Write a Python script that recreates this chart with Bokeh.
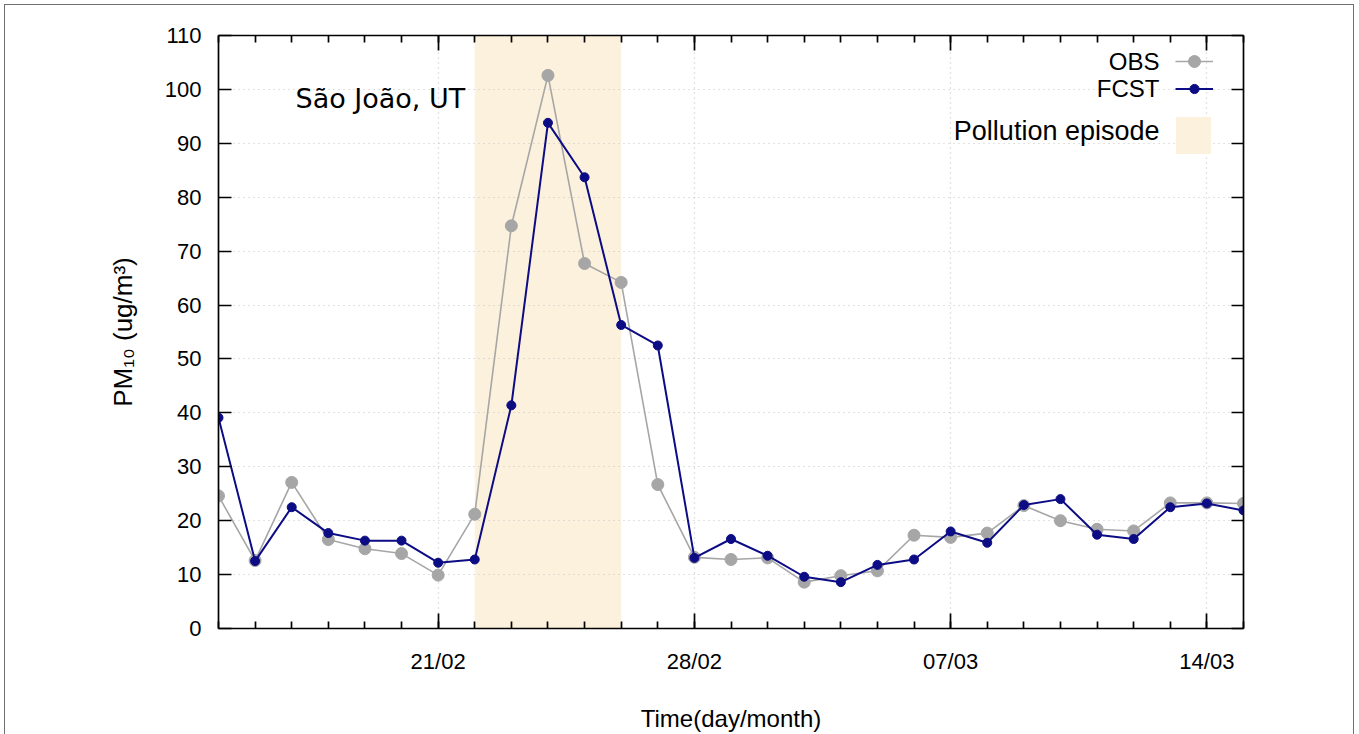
from bokeh.plotting import figure
from bokeh.models import (Range1d, FixedTicker, LinearAxis, Legend, LegendItem,
                          Label, ColumnDataSource, Grid, InlineStyleSheet)
from bokeh.embed import file_html
from bokeh.resources import INLINE

# ---------------- data ----------------
dates = ["15/02", "16/02", "17/02", "18/02", "19/02", "20/02", "21/02", "22/02",
         "23/02", "24/02", "25/02", "26/02", "27/02", "28/02", "01/03", "02/03",
         "03/03", "04/03", "05/03", "06/03", "07/03", "08/03", "09/03", "10/03",
         "11/03", "12/03", "13/03", "14/03", "15/03"]
obs = [24.6, 12.6, 27.1, 16.5, 14.8, 13.9, 9.9, 21.2, 74.7, 102.6, 67.7, 64.2,
       26.7, 13.2, 12.8, 13.1, 8.6, 9.8, 10.7, 17.3, 16.9, 17.7, 22.8, 20.0,
       18.4, 18.1, 23.3, 23.3, 23.2]
fcst = [39.1, 12.5, 22.5, 17.7, 16.3, 16.3, 12.2, 12.8, 41.4, 93.8, 83.7, 56.3,
        52.5, 13.1, 16.6, 13.5, 9.6, 8.6, 11.8, 12.8, 18.0, 15.9, 22.9, 24.0,
        17.4, 16.6, 22.5, 23.2, 21.9]
tick_labels = ["21/02", "28/02", "07/03", "14/03"]
y_ticks = [0, 10, 20, 30, 40, 50, 60, 70, 80, 90, 100, 110]
episode_start = "22/02"
episode_end = "26/02"
station = "São João, UT"

# ---------------- figure ----------------
xs = list(range(len(dates)))
src = ColumnDataSource(dict(x=xs, obs=obs, fcst=fcst))

W, H = 1359, 734
L, R, T, B = 218, 116, 35, 104

p = figure(width=W, height=H, output_backend="svg", toolbar_location=None,
           x_range=Range1d(xs[0], xs[-1]), y_range=Range1d(0, 110),
           min_border_left=L, min_border_right=R, min_border_top=T,
           min_border_bottom=B, x_axis_type=None, y_axis_type=None)
p.outline_line_color = None
p.background_fill_color = "white"
p.border_fill_color = "white"
# thin grey panel frame (left, top, right sides)
p.stylesheets = [InlineStyleSheet(css="""
:host { position: relative; }
:host::after {
  content: ""; position: absolute; left: 4px; top: 4px; right: 5px; bottom: 0px;
  border: 1.5px solid #707070; border-bottom: none;
  pointer-events: none; z-index: 10;
}
""")]

major_idx = [dates.index(t) for t in tick_labels]
xticker = FixedTicker(ticks=major_idx, minor_ticks=xs)
yticker = FixedTicker(ticks=y_ticks, minor_ticks=[])

TICKFONT = "Liberation Sans"

def style_axis(ax, major_in, minor_in, show_labels, size):
    ax.axis_line_color = "black"
    ax.axis_line_width = 1.7
    ax.major_tick_line_color = "black"
    ax.major_tick_line_width = 1.7
    ax.minor_tick_line_color = "black"
    ax.minor_tick_line_width = 1.7
    ax.major_tick_in = major_in
    ax.major_tick_out = 0
    ax.minor_tick_in = minor_in
    ax.minor_tick_out = 0
    ax.major_label_text_font = TICKFONT
    ax.major_label_text_font_size = size
    ax.major_label_text_color = "black"
    if not show_labels:
        ax.major_label_text_alpha = 0
        ax.major_label_text_font_size = "1px"

xb = LinearAxis(ticker=xticker,
                major_label_overrides={i: dates[i] for i in major_idx})
style_axis(xb, 15, 7, True, "22px")
xb.major_label_standoff = 20
xb.axis_label = "Time(day/month)"
xb.axis_label_text_font = TICKFONT
xb.axis_label_text_font_size = "24px"
xb.axis_label_text_font_style = "normal"
xb.axis_label_text_color = "black"
xb.axis_label_standoff = 28
p.add_layout(xb, "below")

xt = LinearAxis(ticker=xticker)
style_axis(xt, 15, 7, False, "1px")
p.add_layout(xt, "above")

yl = LinearAxis(ticker=yticker)
style_axis(yl, 13, 0, True, "22px")
yl.major_label_standoff = 17
yl.axis_label = "PM\u2081\u2080 (ug/m\u00b3)"
yl.axis_label_text_font = TICKFONT
yl.axis_label_text_font_size = "26px"
yl.axis_label_text_font_style = "normal"
yl.axis_label_text_color = "black"
yl.axis_label_standoff = 24
p.add_layout(yl, "left")

yr = LinearAxis(ticker=yticker)
style_axis(yr, 12, 0, False, "1px")
p.add_layout(yr, "right")

gx = Grid(dimension=0, ticker=FixedTicker(ticks=major_idx))
gy = Grid(dimension=1, ticker=FixedTicker(ticks=y_ticks[1:-1]))
for g in (gx, gy):
    g.grid_line_color = "#c4c4c4"
    g.grid_line_dash = "1 4"
    g.grid_line_width = 1.2
    g.level = "underlay"
    p.add_layout(g, "center")

# episode shading
shade = p.quad(left=[dates.index(episode_start)], right=[dates.index(episode_end)],
               bottom=[0], top=[110], fill_color="#fcf1dc", line_color=None,
               level="image")

GRAY = "#a6a6a6"
BLUE = "#0c0c84"
obs_line = p.line("x", "obs", source=src, line_color=GRAY, line_width=1.6)
obs_pts = p.scatter("x", "obs", source=src, size=12, fill_color=GRAY,
                    line_color=GRAY)
fc_line = p.line("x", "fcst", source=src, line_color=BLUE, line_width=2)
fc_pts = p.scatter("x", "fcst", source=src, size=9, fill_color=BLUE,
                   line_color=BLUE)

def sx(cx):
    return cx - L

def sy(cy):
    return (H - B) - cy

# legend: glyph samples (Bokeh legends) with texts placed to their left
def glyph_legend(label, rends, gx0, gy_center, gw, gh):
    lg = Legend(items=[LegendItem(label=label, renderers=rends)],
                location=(sx(gx0), sy(gy_center) - gh / 2), glyph_width=gw,
                glyph_height=gh, label_height=gh, label_width=0,
                label_standoff=0, padding=0, margin=0, spacing=0,
                border_line_color=None, background_fill_alpha=0,
                label_text_alpha=0, label_text_font_size="1px")
    p.add_layout(lg, "center")

def text(txt, cx, cy, size, align="right", font=TICKFONT):
    p.add_layout(Label(x=sx(cx), y=sy(cy), x_units="screen", y_units="screen",
                       text=txt, text_align=align, text_baseline="middle",
                       text_font=font, text_font_size=size, text_color="black"))

glyph_legend("OBS", [obs_line, obs_pts], 1175, 63, 38, 30)
glyph_legend("FCST", [fc_line, fc_pts], 1175, 90, 38, 23)
glyph_legend("Pollution episode", [shade], 1170.5, 136.5, 44, 46)
text("OBS", 1159, 63, "24px")
text("FCST", 1159, 90, "24px")
text("Pollution episode", 1159, 132, "27px")

text(station, 295, 100, "27px", align="left", font="DejaVu Sans")

open("out.html", "w").write(file_html(p, INLINE))
